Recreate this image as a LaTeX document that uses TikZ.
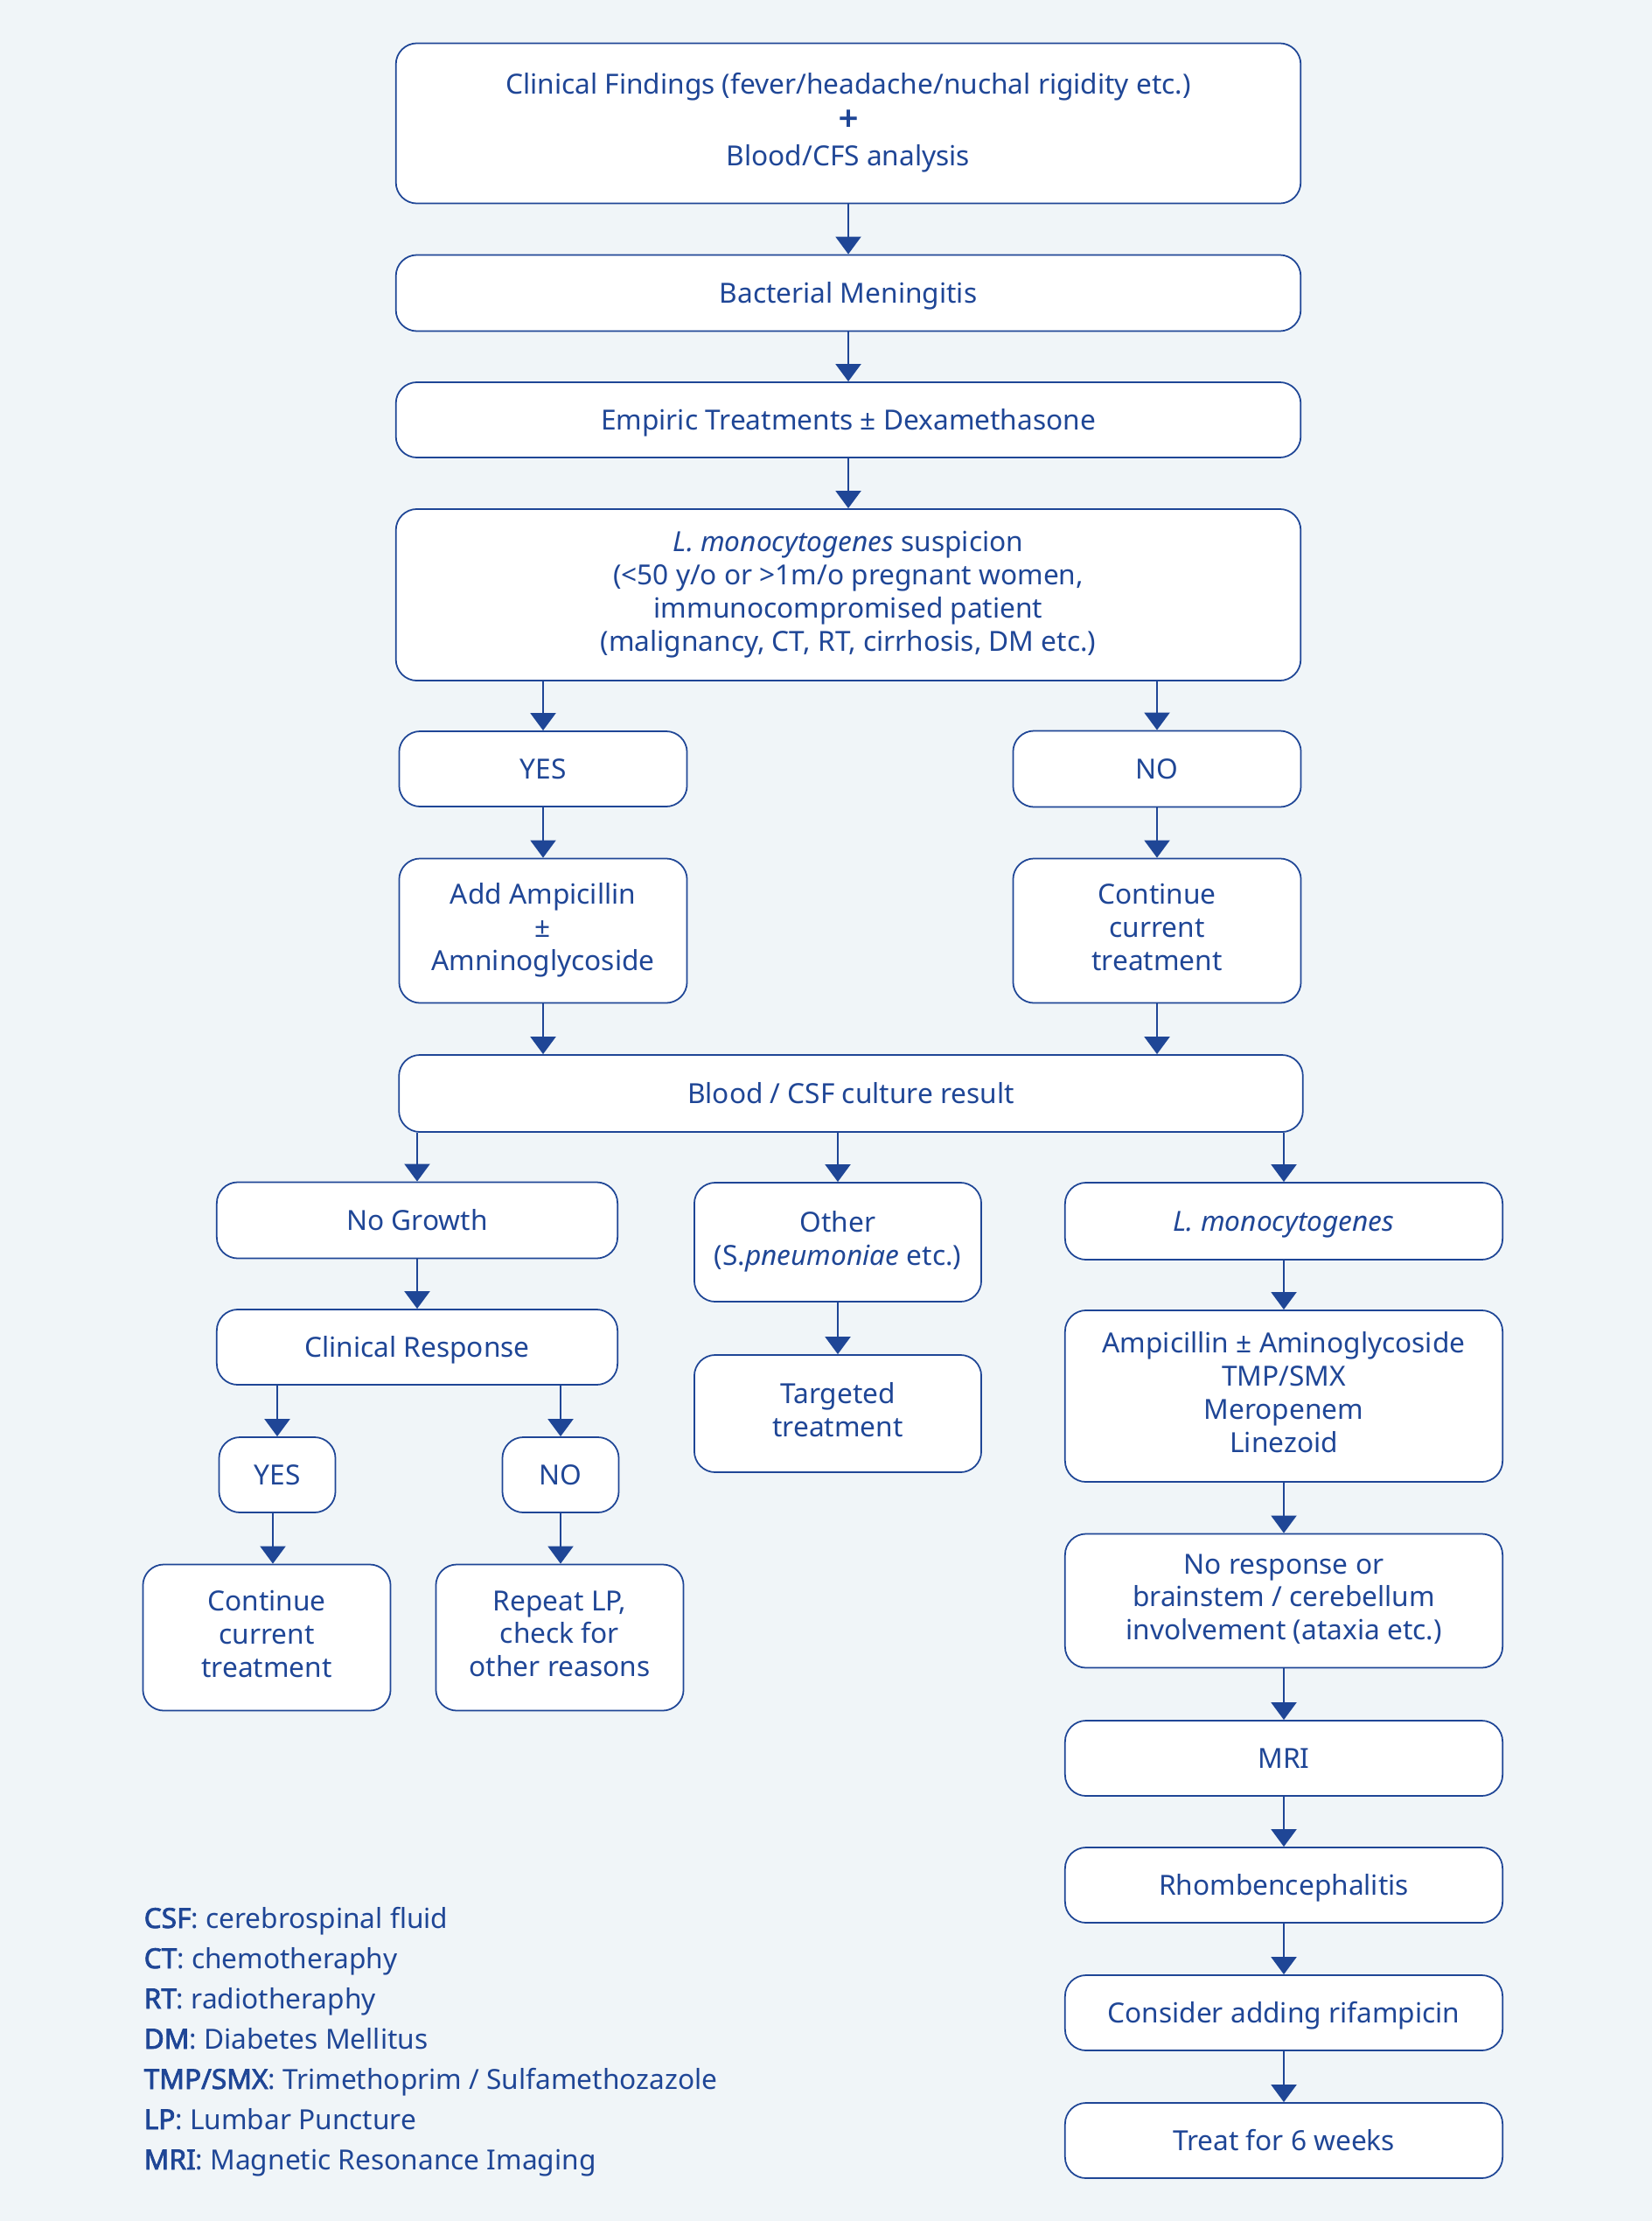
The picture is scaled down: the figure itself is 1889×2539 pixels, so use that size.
\documentclass[tikz,border=0pt]{standalone}
\usepackage{fontspec}
\setmainfont{Noto Sans}[AutoFakeBold=2.5]
\usetikzlibrary{arrows.meta}
\definecolor{navy}{HTML}{1F4696}
\definecolor{backg}{HTML}{F0F5F8}
\newcommand{\bxs}{\rule[-2.46pt]{0pt}{11.46pt}}
\newcommand{\bxfont}{\fontsize{9}{10.8}\selectfont\lineskiplimit-20pt\relax}
\newcommand{\topfont}{\fontsize{9}{11.7}\selectfont\lineskiplimit-20pt\relax}
\tikzstyle{box}=[draw=navy,fill=white,line width=0.5pt,rounded corners=0.24cm,align=center,inner sep=0pt,text=navy,
	font={\bxfont},execute at begin node=\bxs,execute at end node=\bxs]
\tikzstyle{arr}=[draw=navy,line width=0.6pt,-{Triangle[width=0.29cm,length=0.2cm]}]

\begin{document}
\begin{tikzpicture}[x=0.01cm, y=-0.01cm]
	%background
	\fill[backg] (0,0) rectangle (1889,2539);
	%main column
	\node[box,minimum width=10.34cm,minimum height=1.83cm,font={\topfont}] (clin) at (970,141)
	{Clinical Findings (fever/headache/nuchal rigidity etc.)\\ {\fontsize{11}{11}\selectfont\bfseries +}\\ Blood/CFS analysis};
	\node[box,minimum width=10.34cm,minimum height=0.87cm] (bact) at (970,335) {Bacterial Meningitis};
	\node[box,minimum width=10.34cm,minimum height=0.86cm] (empir) at (970,480) {Empiric Treatments ± Dexamethasone};
	\node[box,minimum width=10.34cm,minimum height=1.96cm] (susp) at (970,680)
	{\textit{L. monocytogenes} suspicion\\ (<50 y/o or >1m/o pregnant women,\\ immunocompromised patient\\ (malignancy, CT, RT, cirrhosis, DM etc.)};
	%suspicion yes/no
	\node[box,minimum width=3.29cm,minimum height=0.86cm] (yes) at (621,879) {YES};
	\node[box,minimum width=3.29cm,minimum height=0.87cm] (no) at (1323,879) {NO};
	\node[box,minimum width=3.29cm,minimum height=1.65cm] (addamp) at (621,1064) {Add Ampicillin\\ ±\\ Amninoglycoside};
	\node[box,minimum width=3.29cm,minimum height=1.65cm] (cont) at (1323,1064) {Continue\\ current\\ treatment};
	\node[box,minimum width=10.33cm,minimum height=0.88cm] (cult) at (973,1250) {Blood / CSF culture result};
	%culture results
	\node[box,minimum width=4.58cm,minimum height=0.87cm] (nogr) at (477,1395) {No Growth};
	\node[box,minimum width=3.28cm,minimum height=1.36cm] (other) at (958,1420) {Other\\ (S.\textit{pneumoniae} etc.)};
	\node[box,minimum width=5.00cm,minimum height=0.88cm] (lmono) at (1468,1396) {\textit{L. monocytogenes}};
	\node[box,minimum width=4.58cm,minimum height=0.86cm] (resp) at (477,1540) {Clinical Response};
	\node[box,minimum width=3.28cm,minimum height=1.34cm] (targ) at (958,1616) {Targeted\\ treatment};
	\node[box,minimum width=5.00cm,minimum height=1.96cm] (lmtreat) at (1468,1596)
	{Ampicillin ± Aminoglycoside\\ TMP/SMX\\ Meropenem\\ Linezoid};
	%clinical response
	\node[box,minimum width=1.33cm,minimum height=0.86cm] (yesb) at (317,1686) {YES};
	\node[box,minimum width=1.33cm,minimum height=0.86cm] (nob) at (641,1686) {NO};
	\node[box,minimum width=2.83cm,minimum height=1.67cm] (contb) at (305,1872) {Continue\\ current\\ treatment};
	\node[box,minimum width=2.83cm,minimum height=1.67cm] (repeat) at (640,1872) {Repeat LP,\\ check for\\ other reasons};
	%listeria column
	\node[box,minimum width=5.00cm,minimum height=1.53cm] (nores) at (1468,1830)
	{No response or\\ brainstem / cerebellum\\ involvement (ataxia etc.)};
	\node[box,minimum width=5.00cm,minimum height=0.86cm] (mri) at (1468,2010) {MRI};
	\node[box,minimum width=5.00cm,minimum height=0.86cm] (rhomb) at (1468,2155) {Rhombencephalitis};
	\node[box,minimum width=5.00cm,minimum height=0.86cm] (rifa) at (1468,2301) {Consider adding rifampicin};
	\node[box,minimum width=5.00cm,minimum height=0.86cm] (treat) at (1468,2447) {Treat for 6 weeks};
	%arrows
	\draw[arr] (clin) -- (bact);
	\draw[arr] (bact) -- (empir);
	\draw[arr] (empir) -- (susp);
	\draw[arr] (susp.south -| yes) -- (yes.north);
	\draw[arr] (susp.south -| no) -- (no.north);
	\draw[arr] (yes) -- (addamp);
	\draw[arr] (no) -- (cont);
	\draw[arr] (addamp.south) -- (addamp.south |- cult.north);
	\draw[arr] (cont.south) -- (cont.south |- cult.north);
	\draw[arr] (cult.south -| nogr) -- (nogr.north);
	\draw[arr] (cult.south -| other) -- (other.north);
	\draw[arr] (cult.south -| lmono) -- (lmono.north);
	\draw[arr] (nogr) -- (resp);
	\draw[arr] (other) -- (targ);
	\draw[arr] (lmono) -- (lmtreat);
	\draw[arr] (resp.south -| yesb) -- (yesb.north);
	\draw[arr] (resp.south -| nob) -- (nob.north);
	\draw[arr] ([xshift=-0.05cm]yesb.south) -- ([xshift=-0.05cm]yesb.south |- contb.north);
	\draw[arr] (nob.south) -- (nob.south |- repeat.north);
	\draw[arr] (lmtreat) -- (nores);
	\draw[arr] (nores) -- (mri);
	\draw[arr] (mri) -- (rhomb);
	\draw[arr] (rhomb) -- (rifa);
	\draw[arr] (rifa) -- (treat);
	%legend
	\foreach \ab/\txt [count=\i] in {CSF/cerebrospinal fluid, CT/chemotheraphy, RT/radiotheraphy, DM/Diabetes Mellitus,
		{TMP/SMX}/{Trimethoprim / Sulfamethozazole}, LP/Lumbar Puncture, MRI/Magnetic Resonance Imaging}
	\node[anchor=base west,inner sep=0pt,text=navy,font=\fontsize{9}{10.8}\selectfont] (leg\i) at (164,2204+46*\i-46)
	{\textbf{\ab}: \txt};
\end{tikzpicture}
\end{document}
